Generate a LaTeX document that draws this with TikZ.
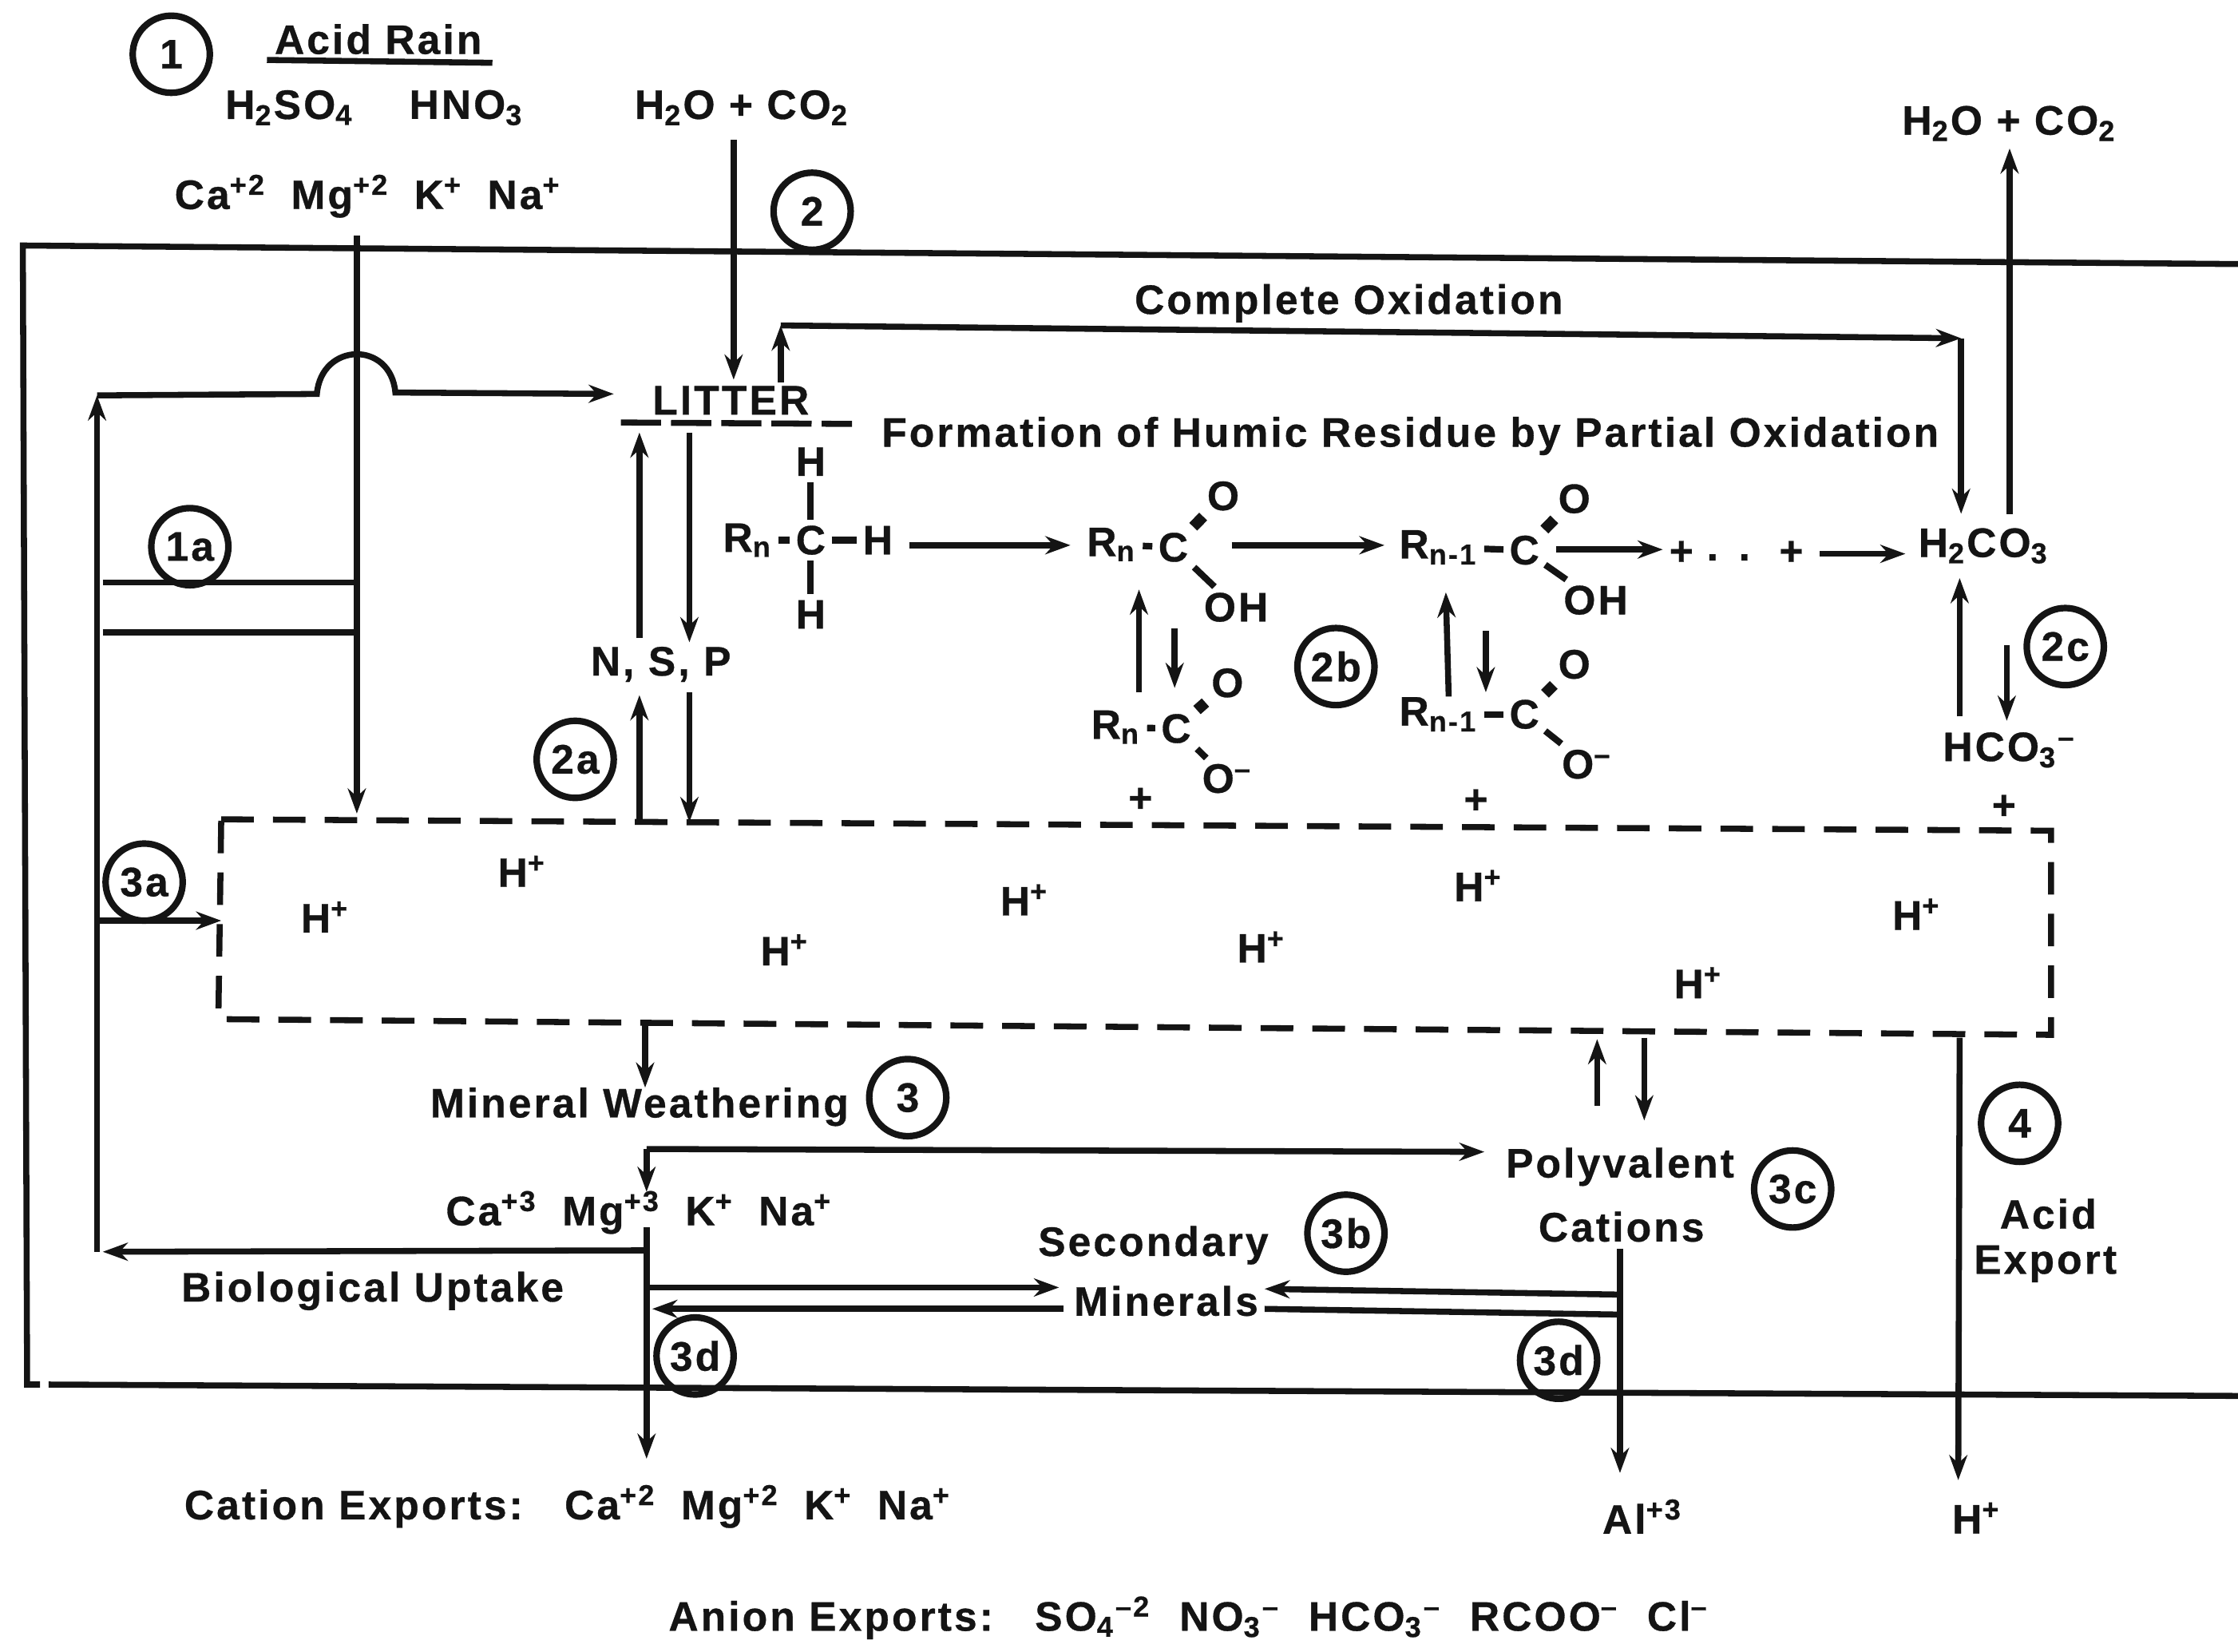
\documentclass[tikz,border=0pt]{standalone}
\usepackage{fontspec}
\setmainfont{Liberation Sans}[LetterSpace=6,BoldFeatures={FakeBold=0.6}]
\usetikzlibrary{arrows.meta}
\definecolor{ink}{HTML}{141414}
\newcommand{\labelfont}{\fontsize{8.2}{10}\selectfont\bfseries}
\newcommand{\su}[1]{\textsubscript{#1}}
\newcommand{\sa}[1]{\textsuperscript{#1}}
\newcommand{\gp}{\ \hspace{0.25em}}
\tikzset{
  tag/.style={circle, draw=ink, line width=1.3pt, minimum size=0.54cm, inner sep=0pt},
  flow/.style={->, line width=1.2pt, draw=ink},
  bare/.style={line width=1.2pt, draw=ink},
  bond/.style={line width=1.3pt, draw=ink},
  dbond/.style={line width=2.2pt, draw=ink}
}
\begin{document}
\begin{tikzpicture}[x=0.01cm, y=-0.01cm, >={Stealth[length=5pt,width=3.6pt]},
    every node/.style={font=\labelfont, text=ink, inner sep=1pt}]
  \useasboundingbox (0,0) rectangle (1568,1157);
  \coordinate (rimnw) at (16,172);
  \coordinate (rimne) at (1568,185);
  \coordinate (rimsw) at (19,970);
  \coordinate (rimgap) at (34,970);
  \coordinate (rimse) at (1568,978);
  \coordinate (boxnw) at (155,574);
  \coordinate (boxne) at (1437,582);
  \coordinate (boxse) at (1437,725);
  \coordinate (boxsw) at (153,714);
  \draw[bare] (rimne) -- (rimnw) -- (rimsw) -- (28,970);
  \draw[bare] (rimgap) -- (rimse);
  \draw[bare, dash pattern=on 6.5pt off 3.8pt] (boxnw) -- (boxne) -- (boxse) -- (boxsw) -- cycle;

  \node[tag] (one) at (120,38) {1};
  \node[tag] (two) at (569,148) {2};
  \node[tag] (onea) at (133,383) {1a};
  \node[tag] (twoa) at (403,532) {2a};
  \node[tag] (twob) at (936,467) {2b};
  \node[tag] (twoc) at (1447,453) {2c};
  \node[tag] (threea) at (101,618) {3a};
  \node[tag] (three) at (636,769) {3};
  \node[tag] (threeb) at (943,864) {3b};
  \node[tag] (threec) at (1256,833) {3c};
  \node[tag] (threed) at (487,950) {3d};
  \node[tag] (threee) at (1092,953) {3d};
  \node[tag] (four) at (1415,787) {4};

  \begin{scope}[yshift=-0.7pt]
  \node (rain) at (265,25) {Acid Rain};
  \node (sulf) at (203,73) {H\su{2}SO\su{4}};
  \node (nitr) at (327,73) {HNO\su{3}};
  \node (airin) at (520,73) {H\su{2}O + CO\su{2}};
  \node (baseup) at (258,135) {Ca\sa{+2}\gp Mg\sa{+2}\gp K\sa{+}\gp Na\sa{+}};
  \node (compl) at (945,210) {Complete Oxidation};
  \node (airout) at (1408,84) {H\su{2}O + CO\su{2}};
  \node (litter) at (512,278) {LITTER};
  \node (humic) at (988,303) {Formation of Humic Residue by Partial Oxidation};
  \node (nsp) at (463,463) {N, S, P};

  \node (hua) at (568,321) {H};
  \node (rua) at (524,376) {R\su{n}};
  \node (cua) at (568,376) {C};
  \node (hub) at (615,376) {H};
  \node (huc) at (568,428) {H};
  \node (rub) at (779,379) {R\su{n}};
  \node (cub) at (822,381) {C};
  \node (oub) at (857,345) {O};
  \node (ohb) at (866,423) {OH};
  \node (ruc) at (1008,381) {R\su{n-1}};
  \node (cuc) at (1068,383) {C};
  \node (ouc) at (1103,347) {O};
  \node (ohc) at (1118,418) {OH};
  \node (pla) at (1178,385) {+};
  \node (dots) at (1211,388) {.\hspace{0.5em}.};
  \node (plb) at (1255,385) {+};
  \node (hco) at (1390,380) {H\su{2}CO\su{3}};
  \node (rlb) at (782,507) {R\su{n}};
  \node (clb) at (824,508) {C};
  \node (olb) at (860,476) {O};
  \node (omb) at (860,543) {O\sa{--}};
  \node (rlc) at (1008,498) {R\su{n-1}};
  \node (clc) at (1068,498) {C};
  \node (olc) at (1103,463) {O};
  \node (omc) at (1112,533) {O\sa{--}};
  \node (bicarb) at (1408,523) {HCO\su{3}\sa{--}};
  \node (plc) at (799,558) {+};
  \node (pld) at (1034,559) {+};
  \node (ple) at (1404,563) {+};

  \node (ha) at (228,640) {H\sa{+}};
  \node (hb) at (366,608) {H\sa{+}};
  \node (hc) at (550,663) {H\sa{+}};
  \node (hd) at (718,628) {H\sa{+}};
  \node (he) at (884,661) {H\sa{+}};
  \node (hf) at (1036,618) {H\sa{+}};
  \node (hg) at (1343,638) {H\sa{+}};
  \node (hh) at (1190,686) {H\sa{+}};

  \node (weath) at (448,773) {Mineral Weathering};
  \node (basedn) at (448,847) {Ca\sa{+3}\gp Mg\sa{+3}\gp K\sa{+}\gp Na\sa{+}};
  \node (uptake) at (261,902) {Biological Uptake};
  \node (second) at (808,870) {Secondary};
  \node (miner) at (817,909) {Minerals};
  \node (poly) at (1135,815) {Polyvalent};
  \node (catn) at (1136,857) {Cations};
  \node (acid) at (1435,848) {Acid};
  \node (expt) at (1433,883) {Export};
  \node (catex) at (398,1053) {Cation Exports:\ \ \ Ca\sa{+2}\gp Mg\sa{+2}\gp K\sa{+}\gp Na\sa{+}};
  \node (alum) at (1151,1060) {Al\sa{+3}};
  \node (proton) at (1385,1061) {H\sa{+}};
  \node (anex) at (833,1131) {Anion Exports:\ \ \ SO\su{4}\sa{--2}\ \ NO\su{3}\sa{--}\ \ HCO\su{3}\sa{--}\ \ RCOO\sa{--}\ \ Cl\sa{--}};
  \end{scope}

  \draw[bond] (hua) -- (cua);
  \draw[bond] (cua) -- (huc);
  \draw[bond] (rua) -- (cua);
  \draw[bond] (cua) -- (hub);
  \draw[bond] (rub) -- (cub);
  \draw[dbond] (cub) -- (oub);
  \draw[bond] (cub) -- (ohb);
  \draw[bond] (ruc) -- (cuc);
  \draw[dbond] (cuc) -- (ouc);
  \draw[bond] (cuc) -- (ohc);
  \draw[bond] (rlb) -- (clb);
  \draw[dbond] (clb) -- (olb);
  \draw[bond] (clb) -- (omb);
  \draw[bond] (rlc) -- (clc);
  \draw[dbond] (clc) -- (olc);
  \draw[bond] (clc) -- (omc);

  \coordinate (rainl) at (187,42);
  \coordinate (rainr) at (345,44);
  \draw[bare] (rainl) -- (rainr);
  \coordinate (litl) at (435,296);
  \coordinate (litr) at (597,297);
  \draw[bare, dash pattern=on 8pt off 2pt] (litl) -- (litr);

  \coordinate (basefoot) at (250,570);
  \coordinate (basehead) at (250,165);
  \draw[flow] (basehead) -- (basefoot);
  \coordinate (sidea) at (72,408);
  \coordinate (sideb) at (72,443);
  \draw[bare] (sidea) -- (sidea -| basefoot);
  \draw[bare] (sideb) -- (sideb -| basefoot);

  \coordinate (loopsw) at (68,877);
  \coordinate (loopnw) at (68,277);
  \coordinate (humpl) at (222,276);
  \coordinate (humpr) at (277,275);
  \coordinate (litin) at (430,276);
  \coordinate (uptr) at (453,876);
  \coordinate (upl) at (72,877);
  \draw[flow] (uptr) -- (upl);
  \draw[flow] (loopsw) -- (loopnw);
  \draw[flow] (loopnw) -- (humpl) to[out=85,in=95,looseness=1.7] (humpr) -- (litin);
  \coordinate (tapa) at (68,645);
  \draw[flow] (tapa) -- (tapa -| boxnw);

  \coordinate (airfoot) at (514,266);
  \coordinate (airhead) at (514,98);
  \draw[flow] (airhead) -- (airfoot);
  \coordinate (oxa) at (547,268);
  \coordinate (oxb) at (547,228);
  \coordinate (oxc) at (1374,237);
  \coordinate (oxd) at (1374,360);
  \draw[flow] (oxa) -- (oxb);
  \draw[flow] (oxb) -- (oxc);
  \draw[flow] (oxc) -- (oxd);
  \coordinate (outa) at (1408,360);
  \coordinate (outb) at (1408,104);
  \draw[flow] (outa) -- (outb);

  \coordinate (nua) at (448,447);
  \coordinate (nub) at (448,303);
  \coordinate (nuc) at (483,303);
  \coordinate (nud) at (483,450);
  \draw[flow] (nua) -- (nub);
  \draw[flow] (nuc) -- (nud);
  \coordinate (nue) at (448,574);
  \coordinate (nuf) at (448,487);
  \coordinate (nug) at (483,485);
  \coordinate (nuh) at (483,576);
  \draw[flow] (nue) -- (nuf);
  \draw[flow] (nug) -- (nuh);

  \coordinate (sta) at (637,382);
  \coordinate (stb) at (750,382);
  \coordinate (stc) at (863,382);
  \coordinate (std) at (970,382);
  \coordinate (ste) at (1090,385);
  \coordinate (stf) at (1165,385);
  \coordinate (stg) at (1275,388);
  \coordinate (sth) at (1335,388);
  \draw[flow] (sta) -- (stb);
  \draw[flow] (stc) -- (std);
  \draw[flow] (ste) -- (stf);
  \draw[flow] (stg) -- (sth);

  \coordinate (eqa) at (798,485);
  \coordinate (eqb) at (798,413);
  \coordinate (eqc) at (823,440);
  \coordinate (eqd) at (823,482);
  \coordinate (eqe) at (1015,488);
  \coordinate (eqf) at (1013,415);
  \coordinate (eqg) at (1041,442);
  \coordinate (eqh) at (1041,485);
  \coordinate (eqi) at (1373,502);
  \coordinate (eqj) at (1373,405);
  \coordinate (eqk) at (1406,452);
  \coordinate (eql) at (1406,505);
  \draw[flow] (eqa) -- (eqb);
  \draw[flow] (eqc) -- (eqd);
  \draw[flow] (eqe) -- (eqf);
  \draw[flow] (eqg) -- (eqh);
  \draw[flow] (eqi) -- (eqj);
  \draw[flow] (eqk) -- (eql);

  \coordinate (wea) at (452,717);
  \coordinate (web) at (452,762);
  \draw[flow] (wea) -- (web);
  \coordinate (pol) at (453,805);
  \coordinate (polb) at (453,835);
  \coordinate (polr) at (1040,807);
  \draw[flow] (pol) -- (polb);
  \draw[flow] (pol) -- (polr);
  \coordinate (caa) at (453,860);
  \coordinate (cab) at (453,1022);
  \draw[flow] (caa) -- (cab);

  \coordinate (mia) at (455,902);
  \coordinate (mib) at (742,902);
  \coordinate (mic) at (745,917);
  \coordinate (mid) at (457,917);
  \draw[flow] (mia) -- (mib);
  \draw[flow] (mic) -- (mid);
  \coordinate (mie) at (1135,907);
  \coordinate (mif) at (886,903);
  \coordinate (mig) at (886,917);
  \coordinate (mih) at (1135,921);
  \draw[flow] (mie) -- (mif);
  \draw[bare] (mig) -- (mih);

  \coordinate (plua) at (1119,775);
  \coordinate (plub) at (1119,728);
  \coordinate (pluc) at (1152,727);
  \coordinate (plud) at (1152,785);
  \draw[flow] (plua) -- (plub);
  \draw[flow] (pluc) -- (plud);
  \coordinate (alua) at (1135,875);
  \coordinate (alub) at (1135,1032);
  \draw[flow] (alua) -- (alub);
  \coordinate (hxa) at (1373,727);
  \coordinate (hxb) at (1372,1037);
  \draw[flow] (hxa) -- (hxb);
\end{tikzpicture}
\end{document}
